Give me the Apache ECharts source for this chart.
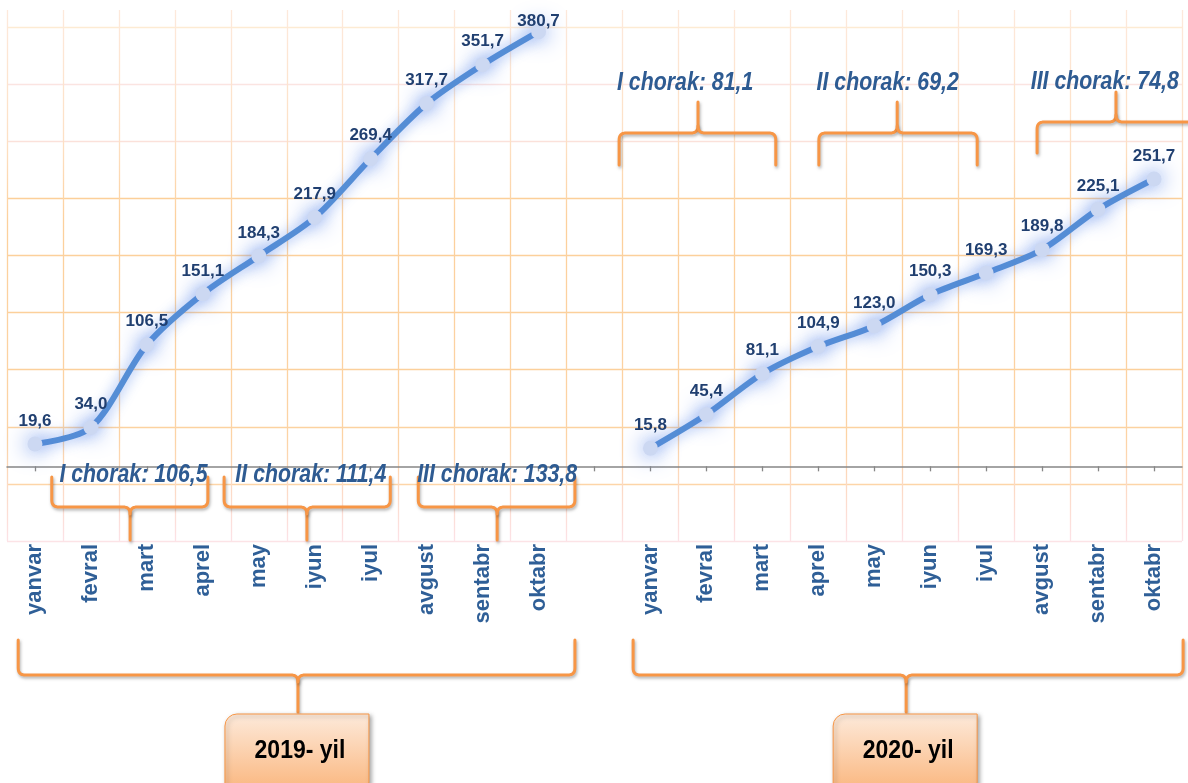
<!DOCTYPE html>
<html><head><meta charset="utf-8">
<script src="https://cdn.jsdelivr.net/npm/echarts@6/dist/echarts.min.js"></script>
<style>html,body{margin:0;padding:0;background:#fff}#c{width:1188px;height:783px}</style>
</head><body><div id="c"></div>
<script>
// ---- data ----
const months2019 = ['yanvar','fevral','mart','aprel','may','iyun','iyul','avgust','sentabr','oktabr'];
const months2020 = ['yanvar','fevral','mart','aprel','may','iyun','iyul','avgust','sentabr','oktabr'];
const values2019 = [19.6, 34.0, 106.5, 151.1, 184.3, 217.9, 269.4, 317.7, 351.7, 380.7];
const values2020 = [15.8, 45.4, 81.1, 104.9, 123.0, 150.3, 169.3, 189.8, 225.1, 251.7];
const quarterLabels2019 = ['I chorak: 106,5', 'II chorak: 111,4', 'III chorak: 133,8'];
const quarterLabels2020 = ['I chorak: 81,1', 'II chorak: 69,2', 'III chorak: 74,8'];
const yearLabels = ['2019- yil', '2020- yil'];

// ---- build ----
const categories = months2019.concat([''], months2020);
const gap = months2020.length + 1;
const d2019 = values2019.map((v, i) => i === values2019.length - 1 ? {value: v, label: {offset: [0, 13]}} : v)
  .concat(Array(gap).fill('-'));
const d2020 = Array(months2019.length + 1).fill('-').concat(values2020);

const FONT = '"Liberation Sans", Arial, sans-serif';
const fmt = p => Number(p.value).toFixed(1).replace('.', ',');

const hColors = ['#fce3e6', '#fdd5a8', '#fcd2a0', '#fcd09b', '#fcd09b', '#fcd09b', '#fccf99', '#fbe1da', '#fbe4e1', '#fdebd3'];
const vGrad = new echarts.graphic.LinearGradient(0, 0, 0, 1, [
  {offset: 0, color: '#fde9dc'}, {offset: 0.25, color: '#fde0c4'}, {offset: 0.4, color: '#fcd09c'},
  {offset: 0.8, color: '#fcd3a4'}, {offset: 1, color: '#fce2e8'}]);

function lineSeries(data) {
  return {
    type: 'line', data: data, xAxisIndex: 0, yAxisIndex: 1, smooth: 0.3,
    symbol: 'circle', symbolSize: 15, connectNulls: false,
    lineStyle: {color: '#558ed5', width: 6, shadowBlur: 14, shadowColor: 'rgba(95,140,235,0.75)'},
    itemStyle: {color: '#ccd8f2', shadowBlur: 22, shadowColor: 'rgba(80,125,230,1)'},
    label: {show: true, position: 'top', distance: 7, formatter: fmt, color: '#203f70',
      fontFamily: FONT, fontWeight: 'bold', fontSize: 17},
    emphasis: {disabled: true}, animation: false, z: 3
  };
}

const option = {
  animation: false,
  grid: {left: 7, right: 6, top: 10, bottom: 242, containLabel: false},
  xAxis: [
    {type: 'category', data: categories, position: 'bottom', boundaryGap: true,
      axisLine: {show: false, onZero: false}, axisTick: {show: false},
      axisLabel: {rotate: 90, interval: 0, margin: 3, color: '#2f5f97', fontFamily: FONT, fontWeight: 'bold', fontSize: 22},
      splitLine: {show: true, interval: 0, lineStyle: {color: vGrad, width: 1.3}}},
    {type: 'category', data: categories, position: 'bottom', boundaryGap: true,
      axisLine: {show: true, onZero: true, onZeroAxisIndex: 1, lineStyle: {color: '#878787', width: 1.5}},
      axisTick: {show: true, alignWithLabel: true, interval: 0, length: 5, lineStyle: {color: '#878787', width: 1.3}},
      axisLabel: {show: false}, splitLine: {show: false}}
  ],
  yAxis: [
    {type: 'value', min: 0, max: 9.3, interval: 1, position: 'left',
      axisLine: {show: false}, axisTick: {show: false}, axisLabel: {show: false},
      splitLine: {show: true, showMaxLine: false, lineStyle: {color: hColors, width: 1.3}}},
    {type: 'value', min: -65.4, max: 399.7, position: 'right', show: false,
      splitLine: {show: false}}
  ],
  series: [lineSeries(d2019), lineSeries(d2020)]
};

const chart = echarts.init(document.getElementById('c'), null, {renderer: 'canvas'});
chart.setOption(option);

// ---- annotations (braces, quarter labels, year boxes) ----
const x0 = chart.convertToPixel({xAxisIndex: 0}, 0);
const x1 = chart.convertToPixel({xAxisIndex: 0}, 1);
const cx = k => x0 + k * (x1 - x0);

function quad(pts, a, c, b) {
  for (let i = 1; i <= 8; i++) {
    const t = i / 8, u = 1 - t;
    pts.push([u * u * a[0] + 2 * u * t * c[0] + t * t * b[0], u * u * a[1] + 2 * u * t * c[1] + t * t * b[1]]);
  }
}
function bracePolys(L, R, S, yE, yH, yS) {
  const d = yS > yH ? 1 : -1, r = 7;
  const left = [[L, yE], [L, yH - d * r]];
  quad(left, [L, yH - d * r], [L, yH], [L + r, yH]);
  left.push([S - r, yH]);
  quad(left, [S - r, yH], [S, yH], [S, yH + d * r]);
  left.push([S, yS]);
  const right = [[S, yH + d * r]];
  quad(right, [S, yH + d * r], [S, yH], [S + r, yH]);
  right.push([R - r, yH]);
  quad(right, [R - r, yH], [R, yH], [R, yH - d * r]);
  right.push([R, yE]);
  return [left, right];
}
const braceStyle = {fill: null, stroke: '#f79646', lineWidth: 3, lineCap: 'round', lineJoin: 'round',
  shadowBlur: 3, shadowColor: 'rgba(0,0,0,0.3)', shadowOffsetX: 1, shadowOffsetY: 2};

const braces = [
  {l: 0.30, r: 3.09, s: 1.70, yE: 477, yH: 507, yS: 540, t: quarterLabels2019[0], tk: 1.76, ty: 475},
  {l: 3.38, r: 6.35, s: 4.86, yE: 477, yH: 507, yS: 540, t: quarterLabels2019[1], tk: 4.93, ty: 475},
  {l: 6.85, r: 9.65, s: 8.26, yE: 477, yH: 507, yS: 540, t: quarterLabels2019[2], tk: 8.26, ty: 475},
  {l: 10.44, r: 13.24, s: 11.85, yE: 165, yH: 133, yS: 102, t: quarterLabels2020[0], tk: 11.62, ty: 83},
  {l: 14.01, r: 16.84, s: 15.41, yE: 165, yH: 133, yS: 102, t: quarterLabels2020[1], tk: 15.24, ty: 83},
  {l: 17.91, r: 20.73, s: 19.32, yE: 153, yH: 122, yS: 92, t: quarterLabels2020[2], tk: 19.12, ty: 82}
];
const years = [
  {l: -0.30, r: 9.65, s: 4.70, t: yearLabels[0]},
  {l: 10.69, r: 20.52, s: 15.57, t: yearLabels[1]}
];

const graphics = [];
function addBrace(L, R, S, yE, yH, yS) {
  bracePolys(L, R, S, yE, yH, yS).forEach(p => {
    graphics.push({type: 'polyline', silent: true, z: 10, shape: {points: p}, style: braceStyle});
  });
}
braces.forEach(b => {
  addBrace(cx(b.l), cx(b.r), cx(b.s), b.yE, b.yH, b.yS);
  graphics.push({type: 'text', silent: true, z: 11, x: cx(b.tk), y: b.ty, scaleX: 0.82,
    style: {text: b.t, x: 0, y: 0, align: 'center', verticalAlign: 'middle',
      font: 'italic bold 26px ' + FONT, fill: '#2e5b92'}});
});
years.forEach(b => {
  const S = cx(b.s);
  addBrace(cx(b.l), cx(b.r), S, 640, 675, 712);
  graphics.push({type: 'rect', silent: true, z: 12, shape: {x: S - 73, y: 714, width: 144, height: 80, r: [12, 0, 12, 0]},
    style: {fill: new echarts.graphic.LinearGradient(0, 0, 0, 1, [{offset: 0, color: '#fdeadb'}, {offset: 1, color: '#fab47a'}]),
      stroke: '#f79646', lineWidth: 1, shadowBlur: 4, shadowColor: 'rgba(0,0,0,0.35)', shadowOffsetX: 2, shadowOffsetY: 2}});
  graphics.push({type: 'text', silent: true, z: 13, x: S + 2, y: 751, scaleX: 0.92,
    style: {text: b.t, x: 0, y: 0, align: 'center', verticalAlign: 'middle',
      font: 'bold 25px ' + FONT, fill: '#000', shadowBlur: 2, shadowColor: 'rgba(0,0,0,0.4)', shadowOffsetX: 1, shadowOffsetY: 1}});
});
chart.setOption({graphic: graphics});
</script></body></html>
